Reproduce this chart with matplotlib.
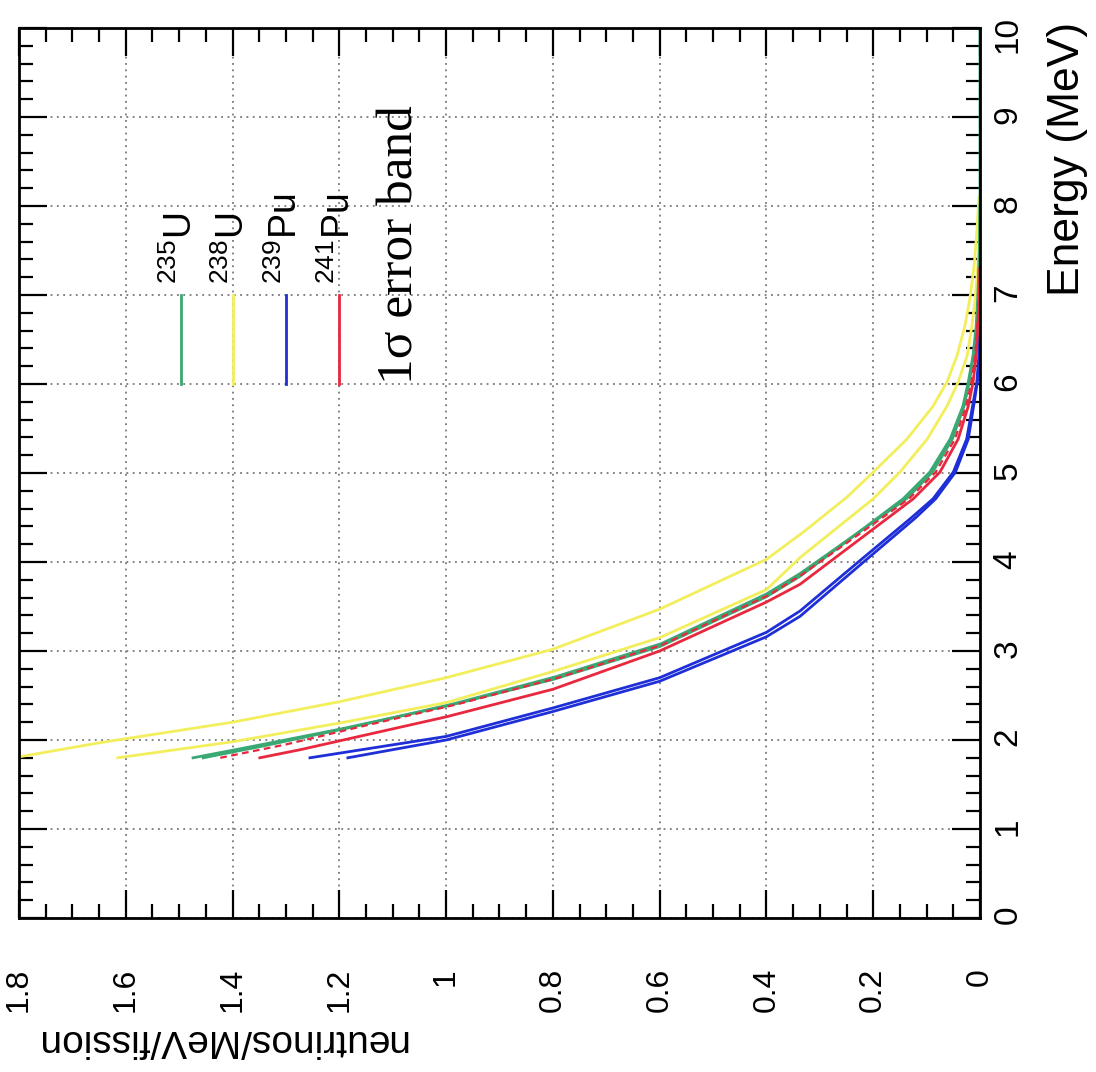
import matplotlib
matplotlib.use("Agg")
import matplotlib.pyplot as plt
from matplotlib.ticker import MultipleLocator

plt.rcParams['font.family'] = ['Liberation Sans', 'DejaVu Sans']
plt.rcParams['mathtext.fontset'] = 'custom'
plt.rcParams['mathtext.rm'] = 'Liberation Sans'
plt.rcParams['mathtext.it'] = 'Liberation Sans:italic'

# ---- data (energy in MeV, spectrum in neutrinos/MeV/fission) ----
u238_hi_e = [1.8, 1.97, 2.2, 2.43, 2.7, 3.02, 3.47, 4.03, 4.34, 4.73, 5.01, 5.38, 5.75, 6.02, 6.32, 6.66, 6.96, 7.33, 7.7, 8.1]
u238_hi_n = [1.81, 1.648, 1.40, 1.20, 1.0, 0.80, 0.60, 0.40, 0.33, 0.249, 0.200, 0.137, 0.088, 0.062, 0.043, 0.028, 0.019, 0.011, 0.006, 0.002]
u238_lo_e = [1.8, 1.98, 2.19, 2.42, 2.77, 3.15, 3.69, 4.05, 4.71, 5.01, 5.38, 5.75, 6.02, 6.32, 6.66, 6.96, 7.33, 7.8]
u238_lo_n = [1.615, 1.40, 1.20, 1.0, 0.80, 0.60, 0.40, 0.337, 0.200, 0.150, 0.099, 0.062, 0.041, 0.024, 0.015, 0.009, 0.004, 0.0]

u235_hi_e = [1.8, 1.91, 2.12, 2.38, 2.68, 3.05, 3.61, 3.84, 4.71, 5.01, 5.38, 5.75, 6.02, 6.32, 6.66, 7.0, 7.5, 8.0, 10.0]
u235_hi_n = [1.474, 1.378, 1.20, 1.0, 0.80, 0.60, 0.40, 0.337, 0.144, 0.094, 0.056, 0.032, 0.022, 0.013, 0.007, 0.004, 0.001, 0.0, 0.0]
u235_lo_e = [1.8, 1.93, 2.14, 2.40, 2.71, 3.08, 3.64, 3.87, 4.71, 5.01, 5.38, 5.75, 6.02, 6.32, 6.66, 7.0, 7.5, 8.0]
u235_lo_n = [1.455, 1.345, 1.18, 0.99, 0.795, 0.598, 0.40, 0.337, 0.138, 0.089, 0.052, 0.030, 0.020, 0.012, 0.006, 0.003, 0.001, 0.0]

pu241_hi_e = [1.8, 1.95, 2.15, 2.40, 2.70, 3.07, 3.63, 3.86, 4.71, 5.01, 5.38, 5.75, 6.02, 6.32, 6.66, 7.0, 7.4]
pu241_hi_n = [1.423, 1.30, 1.16, 0.98, 0.79, 0.595, 0.395, 0.333, 0.133, 0.083, 0.047, 0.026, 0.016, 0.009, 0.005, 0.002, 0.0]
pu241_lo_e = [1.8, 1.89, 2.26, 2.57, 3.0, 3.55, 3.75, 4.71, 5.01, 5.38, 5.75, 6.02, 6.32, 6.66, 7.0, 7.3]
pu241_lo_n = [1.349, 1.274, 1.0, 0.80, 0.60, 0.40, 0.337, 0.125, 0.075, 0.041, 0.022, 0.013, 0.007, 0.004, 0.001, 0.0]

pu239_hi_e = [1.8, 2.04, 2.36, 2.70, 3.21, 3.45, 4.0, 4.5, 4.71, 5.01, 5.38, 5.75, 6.02, 6.32, 6.7]
pu239_hi_n = [1.255, 1.0, 0.80, 0.60, 0.40, 0.337, 0.228, 0.128, 0.088, 0.050, 0.025, 0.014, 0.006, 0.002, 0.0]
pu239_lo_e = [1.8, 2.0, 2.32, 2.66, 3.16, 3.39, 4.0, 4.5, 4.71, 5.01, 5.38, 5.75, 6.02, 6.32, 6.7]
pu239_lo_n = [1.184, 1.0, 0.80, 0.60, 0.40, 0.337, 0.218, 0.120, 0.083, 0.046, 0.022, 0.012, 0.005, 0.001, 0.0]

n_ticks = [0, 0.2, 0.4, 0.6, 0.8, 1.0, 1.2, 1.4, 1.6, 1.8]
n_labels = ['0', '0.2', '0.4', '0.6', '0.8', '1', '1.2', '1.4', '1.6', '1.8']
e_ticks = [0, 1, 2, 3, 4, 5, 6, 7, 8, 9, 10]

legend_labels = [r'$^{235}$U', r'$^{238}$U', r'$^{239}$Pu', r'$^{241}$Pu']
legend_n = [1.497, 1.399, 1.300, 1.200]

c_green = '#3aa872'
c_yellow = '#f3ee5c'
c_blue = '#1f2fd8'
c_red = '#e8283e'

# ---- figure: the chart is drawn turned on its side ----
fig = plt.figure(figsize=(10.96, 10.72), dpi=100)
ax = fig.add_axes([19 / 1096, 1 - 918 / 1072, (980 - 19) / 1096, (918 - 28) / 1072])
ax.set_xlim(1.8, 0)
ax.set_ylim(0, 10)

lw = 2.0
ax.plot(u238_hi_n, u238_hi_e, color=c_yellow, lw=lw)
ax.plot(u238_lo_n, u238_lo_e, color=c_yellow, lw=lw)
ax.plot(pu239_hi_n, pu239_hi_e, color=c_blue, lw=lw)
ax.plot(pu239_lo_n, pu239_lo_e, color=c_blue, lw=lw)
ax.plot(u235_hi_n, u235_hi_e, color=c_green, lw=lw)
ax.plot(u235_lo_n, u235_lo_e, color=c_green, lw=lw)
ax.plot(pu241_lo_n, pu241_lo_e, color=c_red, lw=lw)
ax.plot(pu241_hi_n, pu241_hi_e, color=c_red, lw=1.6, ls=(0, (3, 2)))

# legend drawn by hand, like the original
for n, lab, col in zip(legend_n, legend_labels, [c_green, c_yellow, c_blue, c_red]):
    ax.plot([n, n], [6.0, 7.0], color=col, lw=lw)
    ax.text(n, 7.12, lab, rotation=90, ha='center', va='bottom', fontsize=27)

ax.text(1.086, 6.0, '1σ error band', rotation=90, ha='center', va='bottom',
        fontsize=37, family=['Liberation Serif', 'DejaVu Serif'])

# axes, ticks, grid
ax.set_xticks(n_ticks)
ax.set_xticklabels(n_labels)
ax.set_yticks(e_ticks)
ax.xaxis.set_minor_locator(MultipleLocator(0.05))
ax.yaxis.set_minor_locator(MultipleLocator(0.2))
ax.tick_params(axis='both', which='both', direction='in', top=True, bottom=True,
               left=True, right=True, width=1.6, color='black')
ax.tick_params(which='major', length=20)
ax.tick_params(which='minor', length=10)
ax.tick_params(axis='x', labelrotation=90, labelsize=23, pad=36)
ax.tick_params(axis='y', labelleft=False, labelright=True, labelrotation=90,
               labelsize=24, pad=9)
for s in ax.spines.values():
    s.set_linewidth(2.0)
ax.grid(True, which='major', color='#777777', lw=1.3, ls=(0, (1, 2.5)))
ax.set_axisbelow(True)

fig.text(35 / 1096, 1 - 1040 / 1072, 'neutrinos/MeV/fission', rotation=180,
         ha='left', va='center', fontsize=28)
fig.text(1068 / 1096, 1 - 22 / 1072, 'Energy (MeV)', rotation=90,
         ha='center', va='top', fontsize=32)

fig.savefig('out.png', dpi=100)
